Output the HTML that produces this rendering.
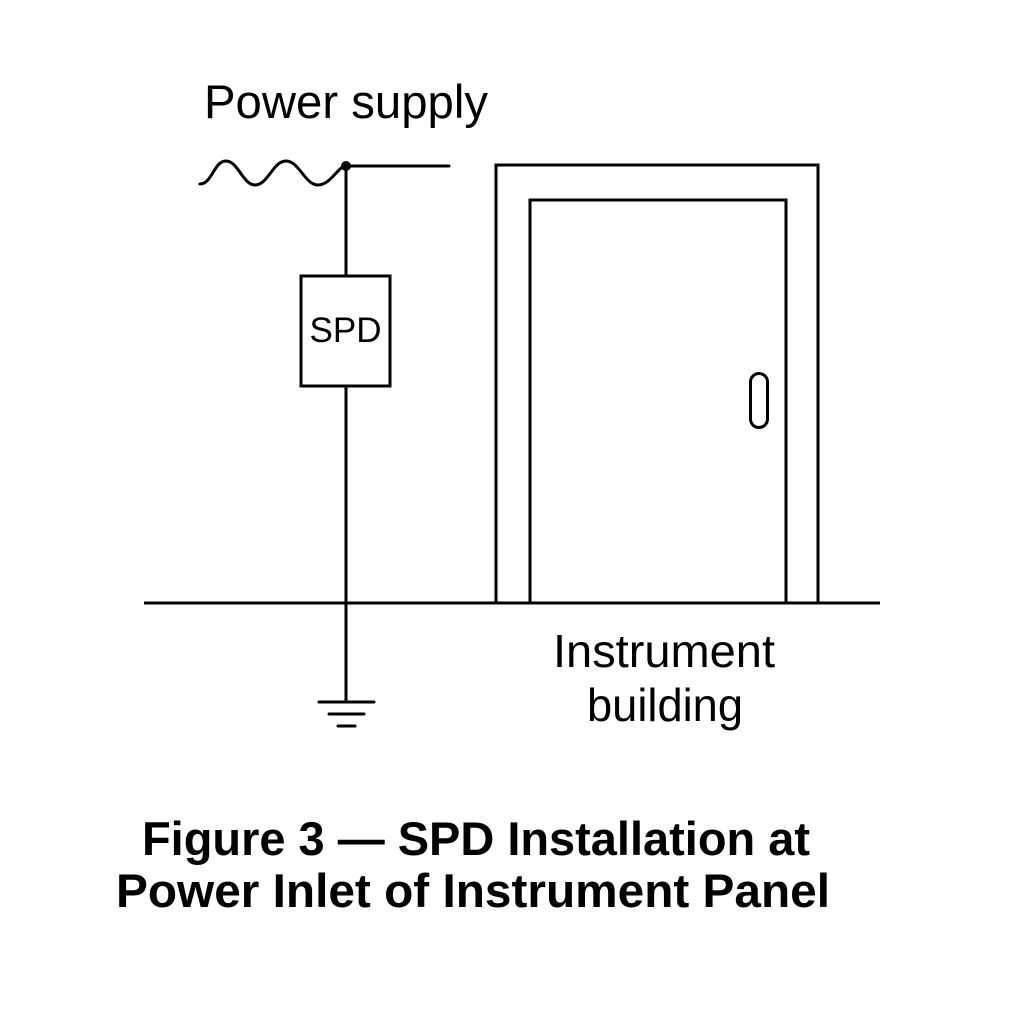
<!DOCTYPE html>
<html>
<head>
<meta charset="utf-8">
<style>
  html, body { margin: 0; padding: 0; background: #ffffff; }
  svg { display: block; }
  text { font-family: "Liberation Sans", Arial, sans-serif; fill: #000; }
</style>
</head>
<body>
<svg width="1024" height="1024" viewBox="0 0 1024 1024" xmlns="http://www.w3.org/2000/svg">
  <rect width="1024" height="1024" fill="#ffffff"/>

  <!-- Power supply label -->
  <text x="204" y="118" font-size="47" textLength="284" lengthAdjust="spacingAndGlyphs">Power supply</text>

  <g fill="none" stroke="#000" stroke-width="3" stroke-linecap="round" stroke-linejoin="round">
    <!-- AC wave -->
    <path d="M200,184 C212,184 214,161 226,161 C238,161 243,185 255,185 C268,185 273,161 286,161 C299,161 305,185 318,185 C331,185 338,166 346,166"/>
    <!-- horizontal line from junction -->
    <line x1="346" y1="166" x2="449" y2="166"/>
    <!-- vertical to SPD -->
    <line x1="346" y1="166" x2="346" y2="276"/>
    <!-- SPD box -->
    <rect x="301" y="276" width="89" height="110" stroke-linecap="butt" stroke-linejoin="miter"/>
    <!-- vertical from SPD to ground -->
    <line x1="346" y1="386" x2="346" y2="702"/>
    <!-- ground symbol -->
    <line x1="319" y1="702" x2="374" y2="702"/>
    <line x1="329" y1="714" x2="364" y2="714"/>
    <line x1="338" y1="726" x2="355" y2="726"/>
    <!-- ground line -->
    <line x1="144" y1="603" x2="880" y2="603" stroke-linecap="butt"/>
    <!-- building outer frame -->
    <polyline points="496,603 496,165 818,165 818,603" stroke-linecap="butt" stroke-linejoin="miter"/>
    <!-- door -->
    <polyline points="530,603 530,200 786,200 786,603" stroke-linecap="butt" stroke-linejoin="miter"/>
    <!-- handle -->
    <rect x="750.5" y="373.5" width="17" height="54" rx="8.5" ry="8.5"/>
  </g>
  <!-- junction dot -->
  <circle cx="346" cy="166" r="5" fill="#000"/>

  <!-- SPD text -->
  <text x="345.5" y="342" font-size="35" text-anchor="middle">SPD</text>

  <!-- Instrument building -->
  <text x="553" y="667" font-size="46" textLength="222" lengthAdjust="spacingAndGlyphs">Instrument</text>
  <text x="587" y="721" font-size="46" textLength="156" lengthAdjust="spacingAndGlyphs">building</text>

  <!-- Title -->
  <text x="142" y="855" font-size="47" font-weight="bold" textLength="668" lengthAdjust="spacingAndGlyphs">Figure 3 — SPD Installation at</text>
  <text x="116" y="907" font-size="47" font-weight="bold" textLength="714" lengthAdjust="spacingAndGlyphs">Power Inlet of Instrument Panel</text>
</svg>
</body>
</html>
